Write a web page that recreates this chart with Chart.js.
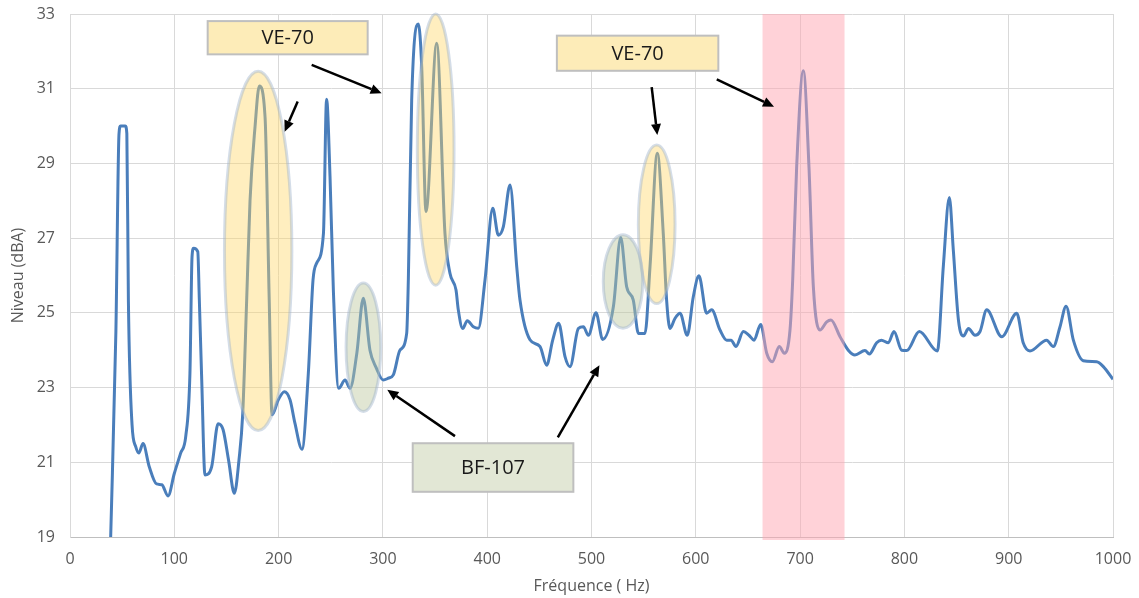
<!DOCTYPE html>
<html lang="fr">
  <head>
    <meta charset="UTF-8" />
    <title>Niveau sonore - Chart.js</title>
    <script src="https://cdn.jsdelivr.net/npm/chart.js"></script>
    <style>
      body {
        margin: 0;
        background: #fff;
      }
    </style>
  </head>
  <body>
    <canvas id="spectre" width="1139" height="598"></canvas>
    <script>
      // Fréquences (Hz) et niveaux (dBA)
      const frequences = [
        39, 44, 47, 48.5, 53, 54.5, 56, 59.5, 63, 66, 70, 76, 83, 88, 94, 100,
        106, 111, 115, 117, 118.5, 122.5, 124, 126.3, 129.4, 135.8, 142, 146.8,
        152, 157.6, 162, 165.6, 169.4, 172.6, 177.4, 181.5, 187, 191, 193.7,
        199.7, 205.5, 211, 215.7, 222.4, 228.5, 233, 236.5, 243, 246, 249.3,
        252.5, 257.6, 263.7, 268.5, 275, 281.2, 287.6, 293.4, 300.4, 305.2, 310,
        316.4, 322.8, 324.4, 327.6, 334, 337.2, 341.3, 351.6, 359.5, 364.3,
        370.1, 372.3, 376.5, 380.9, 386.7, 391.5, 397.9, 405.3, 410.7, 415.5,
        421.9, 428.3, 431.4, 441, 450.6, 457, 462.8, 468.5, 474.6, 479.4, 487.4,
        492.2, 497, 504.3, 510.7, 521, 528, 533.7, 540, 545, 551.3, 556.1,
        563.1, 568.8, 572, 575.3, 580, 584.9, 591.8, 597.6, 603, 610.4, 615.2,
        623.2, 629.6, 633.8, 638.5, 645.6, 651, 655.8, 662.2, 668, 673.4, 680,
        684.9, 690.3, 692.9, 696.7, 703.1, 708.5, 712.7, 719, 725.5, 729.6,
        738.3, 746.2, 752.6, 762.2, 766.4, 773.4, 778, 784.6, 790, 797.4, 802.2,
        814.3, 831.6, 837.3, 843.1, 846.9, 851.8, 856.6, 861.4, 867.7, 872.5,
        878.9, 893.3, 907.7, 914, 920.4, 936.4, 942.8, 949.2, 955, 962, 971.5,
        984.4, 990.7, 1000,
      ];
      const niveaux = [
        19.0, 24.5, 29.8, 30.0, 30.0, 29.8, 25.3, 22.0, 21.42, 21.25, 21.5,
        20.88, 20.42, 20.4, 20.1, 20.7, 21.24, 21.7, 23.39, 26.5, 26.73, 26.64,
        25.35, 23.2, 20.66, 20.88, 22.03, 21.87, 21.06, 20.17, 21.06, 22.3,
        25.35, 28.0, 29.98, 31.07, 30.25, 25.35, 22.27, 22.67, 22.89, 22.67,
        22.04, 21.35, 23.38, 25.88, 26.33, 27.13, 30.72, 28.65, 25.61, 22.98,
        23.2, 22.98, 23.92, 25.39, 24.0, 23.54, 23.2, 23.25, 23.34, 24.0, 24.45,
        25.9, 30.7, 32.73, 31.59, 27.71, 32.22, 27.13, 26.06, 25.61, 25.08,
        24.58, 24.79, 24.63, 24.59, 25.88, 27.8, 27.08, 27.31, 28.42, 26.24,
        25.35, 24.28, 24.1, 23.6, 24.27, 24.72, 23.83, 23.56, 24.58, 24.63,
        24.4, 25.0, 24.29, 25.17, 27.02, 25.7, 25.35, 24.45, 24.45, 26.24,
        29.27, 27.13, 25.35, 24.58, 24.85, 24.99, 24.4, 25.43, 25.99, 24.99,
        25.08, 24.54, 24.27, 24.27, 24.1, 24.5, 24.4, 24.27, 24.69, 23.92,
        23.69, 24.1, 23.92, 24.54, 25.88, 28.91, 31.48, 28.91, 25.7, 24.54,
        24.76, 24.81, 24.36, 24.0, 23.87, 23.99, 23.9, 24.2, 24.27, 24.2, 24.5,
        24.0, 23.99, 24.5, 23.98, 26.24, 28.09, 26.68, 24.81, 24.38, 24.58,
        24.4, 24.5, 25.08, 24.36, 24.99, 24.19, 23.98, 24.27, 24.1, 24.63,
        25.18, 24.27, 23.72, 23.69, 23.56, 23.22,
      ];
      const graduationsX = [0, 100, 200, 300, 400, 500, 600, 700, 800, 900, 1000];
      const graduationsY = [19, 21, 23, 25, 27, 29, 31, 33];

      // Annotations, en unités des axes (Hz, dBA)
      const bande = { de: 664, a: 742.6 };
      const ellipsesVE = [
        { cx: 180.4, cy: 26.66, rx: 32.3, ry: 4.81 },
        { cx: 350.6, cy: 29.37, rx: 17.6, ry: 3.63 },
        { cx: 562.5, cy: 27.37, rx: 17.6, ry: 2.12 },
      ];
      const ellipsesBF = [
        { cx: 281.3, cy: 24.08, rx: 16.6, ry: 1.72 },
        { cx: 530.2, cy: 25.84, rx: 18.9, ry: 1.25 },
      ];
      const etiquettes = [
        { texte: 'VE-70', x0: 132, x1: 285.4, y0: 32.81, y1: 31.92, fond: '#fdecb8' },
        { texte: 'VE-70', x0: 466.8, x1: 621.6, y0: 32.42, y1: 31.48, fond: '#fdecb8' },
        { texte: 'BF-107', x0: 328.6, x1: 482.6, y0: 21.51, y1: 20.21, fond: '#e2e7d5' },
      ];
      const fleches = [
        [218.3, 30.66, 205.8, 29.85],
        [231.7, 31.64, 298.8, 30.88],
        [557.7, 31.04, 563.1, 29.76],
        [620.1, 31.25, 675.0, 30.52],
        [369.1, 21.7, 304.2, 22.94],
        [467.7, 21.67, 507.6, 23.6],
      ];

      const points = frequences.map((f, i) => ({ x: f, y: niveaux[i] }));
      const police = "'Open Sans', sans-serif";

      const notes = {
        id: 'notes',
        afterDatasetsDraw(chart) {
          const { ctx, scales } = chart;
          const sx = scales.x;
          const sy = scales.y;
          ctx.save();

          // bande rose
          const bx0 = sx.getPixelForValue(bande.de);
          const bx1 = sx.getPixelForValue(bande.a);
          const by0 = sy.getPixelForValue(33);
          const by1 = sy.getPixelForValue(18.92);
          ctx.fillStyle = 'rgba(255,165,178,0.5)';
          ctx.fillRect(bx0, by0, bx1 - bx0, by1 - by0);

          const ellipse = (e, fond) => {
            const cx = sx.getPixelForValue(e.cx);
            const cy = sy.getPixelForValue(e.cy);
            const rx = sx.getPixelForValue(e.cx + e.rx) - cx;
            const ry = cy - sy.getPixelForValue(e.cy + e.ry);
            ctx.beginPath();
            ctx.ellipse(cx, cy, rx, ry, 0, 0, Math.PI * 2);
            ctx.fillStyle = fond;
            ctx.fill();
            ctx.lineWidth = 3;
            ctx.strokeStyle = 'rgba(160,180,205,0.45)';
            ctx.stroke();
          };
          ellipsesVE.forEach((e) => ellipse(e, 'rgba(255,214,102,0.42)'));
          ellipsesBF.forEach((e) => ellipse(e, 'rgba(188,200,158,0.45)'));

          // étiquettes
          etiquettes.forEach((t) => {
            const x0 = sx.getPixelForValue(t.x0);
            const x1 = sx.getPixelForValue(t.x1);
            const y0 = sy.getPixelForValue(t.y0);
            const y1 = sy.getPixelForValue(t.y1);
            ctx.fillStyle = t.fond;
            ctx.fillRect(x0, y0, x1 - x0, y1 - y0);
            ctx.lineWidth = 2;
            ctx.strokeStyle = '#bfbfbf';
            ctx.strokeRect(x0, y0, x1 - x0, y1 - y0);
            ctx.fillStyle = '#1a1a1a';
            ctx.font = '20px ' + police;
            ctx.textAlign = 'center';
            ctx.textBaseline = 'middle';
            ctx.fillText(t.texte, (x0 + x1) / 2, (y0 + y1) / 2 + 1);
          });

          // flèches
          fleches.forEach(([f0, v0, f1, v1]) => {
            const x0 = sx.getPixelForValue(f0);
            const y0 = sy.getPixelForValue(v0);
            const x1 = sx.getPixelForValue(f1);
            const y1 = sy.getPixelForValue(v1);
            const a = Math.atan2(y1 - y0, x1 - x0);
            const L = 11;
            const W = 5;
            const bx = x1 - L * Math.cos(a);
            const by = y1 - L * Math.sin(a);
            ctx.strokeStyle = '#000';
            ctx.lineWidth = 2.5;
            ctx.beginPath();
            ctx.moveTo(x0, y0);
            ctx.lineTo(bx, by);
            ctx.stroke();
            ctx.fillStyle = '#000';
            ctx.beginPath();
            ctx.moveTo(x1, y1);
            ctx.lineTo(bx + W * Math.sin(a), by - W * Math.cos(a));
            ctx.lineTo(bx - W * Math.sin(a), by + W * Math.cos(a));
            ctx.closePath();
            ctx.fill();
          });

          ctx.restore();
        },
      };

      // pas de marge automatique autour des axes : la mise en page vient du padding
      const sansMarge = (s) => {
        s.paddingTop = 0;
        s.paddingBottom = 0;
        s.paddingLeft = 0;
        s.paddingRight = 0;
      };

      const ctx = document.getElementById('spectre').getContext('2d');
      new Chart(ctx, {
        type: 'line',
        data: {
          datasets: [
            {
              data: points,
              borderColor: '#4a7ebb',
              borderWidth: 3,
              pointRadius: 0,
              fill: false,
              cubicInterpolationMode: 'monotone',
            },
          ],
        },
        options: {
          responsive: false,
          animation: false,
          layout: { padding: { top: 14, right: 26, left: 0, bottom: 0 } },
          plugins: {
            legend: { display: false },
            tooltip: { enabled: false },
          },
          scales: {
            x: {
              type: 'linear',
              min: 0,
              max: 1000,
              afterBuildTicks: (s) => {
                s.ticks = graduationsX.map((v) => ({ value: v }));
              },
              afterFit: (s) => {
                s.height = 61;
                sansMarge(s);
              },
              ticks: {
                color: '#595959',
                font: { family: police, size: 16 },
                padding: 13,
                maxRotation: 0,
                callback: (v) => String(v),
              },
              grid: { color: '#d9d9d9', drawTicks: false },
              border: { color: '#bfbfbf', width: 1 },
              title: {
                display: true,
                text: 'Fréquence ( Hz)',
                color: '#595959',
                font: { family: police, size: 16, lineHeight: 0.9 },
              },
            },
            y: {
              min: 19,
              max: 33,
              afterBuildTicks: (s) => {
                s.ticks = graduationsY.map((v) => ({ value: v }));
              },
              afterFit: (s) => {
                s.width = 70;
                sansMarge(s);
              },
              ticks: {
                color: '#595959',
                font: { family: police, size: 16 },
                padding: 15,
                callback: (v) => String(v),
              },
              grid: { color: '#d9d9d9', drawTicks: false },
              border: { color: '#d9d9d9' },
              title: {
                display: true,
                text: 'Niveau (dBA)',
                color: '#595959',
                font: { family: police, size: 16, lineHeight: 1.75 },
              },
            },
          },
        },
        plugins: [notes],
      });
    </script>
  </body>
</html>
